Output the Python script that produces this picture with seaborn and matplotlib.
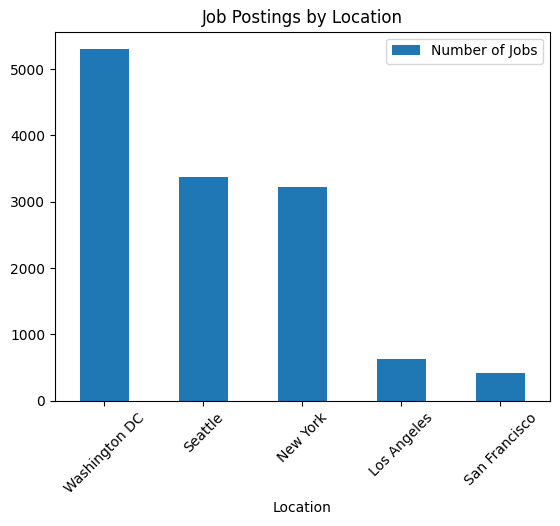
import matplotlib
matplotlib.use("Agg")
import matplotlib.pyplot as plt
import seaborn as sns
import pandas as pd

locations = ["Washington DC", "Seattle", "New York", "Los Angeles", "San Francisco"]
jobs = [5300, 3370, 3220, 635, 425]

df = pd.DataFrame({"Location": locations, "Number of Jobs": jobs})

fig, ax = plt.subplots(figsize=(5.6, 5.26), dpi=100)
sns.barplot(data=df, x="Location", y="Number of Jobs", color="#1f77b4", width=0.5,
            saturation=1, ax=ax, label="Number of Jobs")
ax.set_title("Job Postings by Location")
ax.set_ylabel("")
ax.set_xlabel("Location")
ax.set_xlim(-0.5, 4.5)
ax.tick_params(axis="x", rotation=45)
ax.legend(loc="upper right")
fig.subplots_adjust(left=0.098, right=0.982, top=0.94, bottom=0.238)
fig.savefig("out.png", dpi=100)
